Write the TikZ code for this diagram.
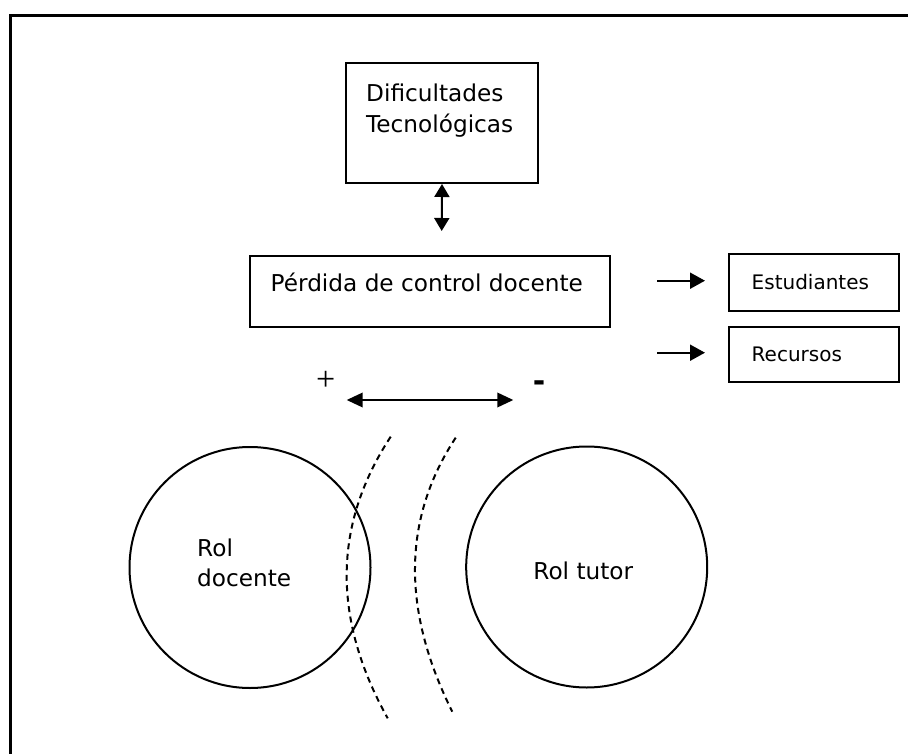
\documentclass[tikz,border=0pt]{standalone}
\usepackage{fontspec}
\setmainfont{DejaVu Sans}
\newfontfamily\plusfont{Liberation Serif}
\usetikzlibrary{arrows.meta}
\begin{document}
\begin{tikzpicture}[x=1pt,y=-1pt,
  box/.style={draw,line width=2pt,rectangle,inner sep=0pt},
  lbl/.style={inner sep=0pt,anchor=base west,font=\fontsize{23.2}{28}\selectfont},
  slbl/.style={inner sep=0pt,anchor=base west,font=\fontsize{20}{24}\selectfont},
  rolcircle/.style={draw,line width=2pt,circle,inner sep=0pt,minimum size=241pt},
  arr/.style={line width=2pt,-{Triangle[length=15pt,width=16pt]}},
  darr/.style={line width=2pt,{Triangle[length=13pt,width=15pt]}-{Triangle[length=13pt,width=15pt]}},
  hdarr/.style={line width=2pt,{Triangle[length=16pt,width=14.5pt]}-{Triangle[length=16pt,width=14.5pt]}},
  dashline/.style={line width=2pt,dash pattern=on 6pt off 4.5pt}
]
\useasboundingbox (0,0) rectangle (908,754);
% frame (top and left only)
\draw[line width=3pt] (10,754) -- (10,16) -- (908,16);

% Dificultades Tecnologicas
\node[box,minimum width=192pt,minimum height=120pt] (dif) at (442,123) {};
\node[lbl] (dif1) at (366,101.7) {Dificultades};
\node[lbl] (dif2) at (366,132.7) {Tecnológicas};

% Perdida de control docente
\node[box,minimum width=360pt,minimum height=71pt] (per) at (430,291.2) {};
\node[lbl] (pertext) at (270.5,291.7) {Pérdida de control docente};

% vertical double arrow
\coordinate (vend) at (441.7,231);
\draw[darr] (dif.south) -- (vend);

% Estudiantes / Recursos
\node[box,minimum width=169.4pt,minimum height=56.7pt] (est) at (814,282.3) {};
\node[slbl] (esttext) at (751.5,290) {Estudiantes};
\node[box,minimum width=169.4pt,minimum height=55pt] (rec) at (814,354.8) {};
\node[slbl] (rectext) at (751.5,361.7) {Recursos};

\coordinate (a1s) at (657,280.7);
\coordinate (a1e) at (705,280.7);
\coordinate (a2s) at (657,352.7);
\coordinate (a2e) at (705,352.7);
\draw[arr] (a1s) -- (a1e);
\draw[arr] (a2s) -- (a2e);

% plus / minus and horizontal double arrow
\node[inner sep=0pt,font=\plusfont\fontsize{34}{36}\selectfont] (plus) at (325.8,380.5) {+};
\node[inner sep=0pt,font=\fontsize{30}{32}\selectfont\bfseries] (minus) at (539.2,386) {-};
\coordinate (hl) at (346.7,400);
\coordinate (hr) at (513.3,400);
\draw[hdarr] (hl) -- (hr);

% circles
\node[rolcircle] (doc) at (250,567.5) {};
\node[lbl] (doc1) at (197,556) {Rol};
\node[lbl] (doc2) at (197,586.7) {docente};
\node[rolcircle] (tut) at (586.7,567) {};
\node[inner sep=0pt,anchor=base,font=\fontsize{23.2}{28}\selectfont] (tuttext) at (583.3,579) {Rol tutor};

% dashed arcs
\draw[dashline] (390.7,436.7) .. controls (333.0,524.6) and (332.0,618.4) .. (387.7,718.3);
\draw[dashline] (455.7,437.7) .. controls (402.6,518.4) and (401.4,609.7) .. (452.3,711.7);
\end{tikzpicture}
\end{document}
